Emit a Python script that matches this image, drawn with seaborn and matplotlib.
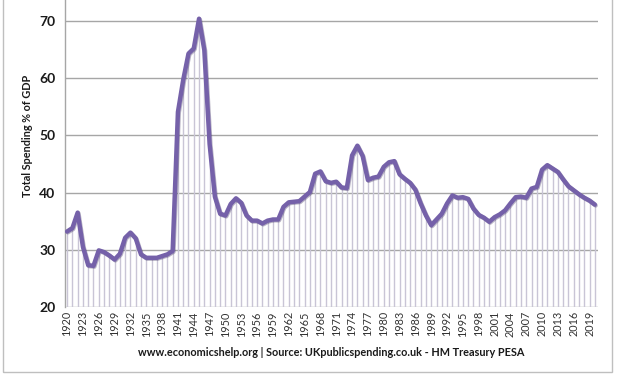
import matplotlib
matplotlib.use("Agg")
import matplotlib.pyplot as plt
import matplotlib.patheffects as pe
from matplotlib.patches import Rectangle
import seaborn as sns
import pandas as pd
import numpy as np

years = list(range(1920, 2021))
spending = [
    33.2, 33.8, 36.5, 30.5, 27.3, 27.2, 29.9, 29.6, 29.0, 28.3,
    29.3, 32.1, 33.0, 32.0, 29.2, 28.6, 28.6, 28.6, 28.9, 29.2,
    29.8, 54.1, 59.7, 64.3, 65.2, 70.4, 64.9, 48.5, 39.3, 36.3,
    36.0, 38.0, 39.0, 38.2, 36.0, 35.1, 35.1, 34.6, 35.1, 35.3,
    35.3, 37.5, 38.3, 38.4, 38.5, 39.3, 40.1, 43.3, 43.7, 42.0,
    41.7, 41.9, 40.9, 40.8, 46.5, 48.2, 46.4, 42.2, 42.6, 42.8,
    44.5, 45.3, 45.5, 43.2, 42.4, 41.7, 40.5, 38.1, 36.0, 34.3,
    35.3, 36.3, 38.1, 39.5, 39.1, 39.2, 38.9, 37.2, 36.1, 35.6,
    34.9, 35.7, 36.2, 36.9, 38.1, 39.2, 39.3, 39.1, 40.7, 41.0,
    44.0, 44.8, 44.2, 43.6, 42.3, 41.1, 40.4, 39.7, 39.1, 38.6,
    37.9,
]
tick_years = list(range(1920, 2020, 3))
y_ticks = [20, 30, 40, 50, 60, 70]
y_label = "Total Spending % of GDP"
x_label = "www.economicshelp.org | Source: UKpublicspending.co.uk - HM Treasury PESA"

df = pd.DataFrame({"year": years, "spending": spending})

sns.set_style("white")
plt.rcParams["font.family"] = ["Lato", "DejaVu Sans"]

W, H = 619, 376
fig = plt.figure(figsize=(W / 100, H / 100), dpi=100)
ax = fig.add_axes([65 / W, 1 - 307 / H, (598 - 65) / W, 307 / H])

ymin = 20
ax.set_ylim(ymin, 20 + 307 / 5.72)
ax.set_xlim(1919.6, 2020.6)

for yv in y_ticks:
    ax.axhline(yv, color="#A6A6A6", lw=1.0, zorder=0)

ax.vlines(df["year"], ymin, df["spending"], color="#C9C5D6", lw=1.0, zorder=1)

sns.lineplot(data=df, x="year", y="spending", ax=ax, color="#7561A9", lw=3.2,
             zorder=3, solid_joinstyle="round", solid_capstyle="round")
ax.lines[-1].set_path_effects([pe.SimpleLineShadow(offset=(0.6, -0.6), shadow_color="#3B2F5E", alpha=0.35),
                               pe.Normal()])

ax.set_yticks(y_ticks)
ax.set_yticklabels([str(v) for v in y_ticks], fontsize=10, fontweight="bold", color="#1A1A1A")
ax.set_xticks(tick_years)
ax.set_xticklabels([str(y) for y in tick_years], rotation=90, fontsize=7.8, color="#333333")
ax.tick_params(axis="y", length=4, color="#A6A6A6", pad=3)
ax.tick_params(axis="x", length=0, pad=3)

for s in ["top", "right", "bottom"]:
    ax.spines[s].set_visible(False)
ax.spines["left"].set_color("#A6A6A6")
ax.spines["left"].set_linewidth(1.0)

ax.set_ylabel(y_label, fontsize=7.8, fontweight="bold", color="#1A1A1A")
ax.yaxis.set_label_coords((33 - 65) / 533, (307 - 136) / 307)
ax.set_xlabel("")
fig.text(331 / W, 1 - 352 / H, x_label, ha="center", va="center", fontsize=7.8,
         fontweight="bold", color="#1A1A1A")

fig.patches.append(Rectangle((3 / W, 1 - 372 / H), (612 - 3) / W, 372 / H + 0.05,
                             transform=fig.transFigure, fill=False, edgecolor="#BFBFBF", lw=1.0))

fig.savefig("out.png", dpi=100)
